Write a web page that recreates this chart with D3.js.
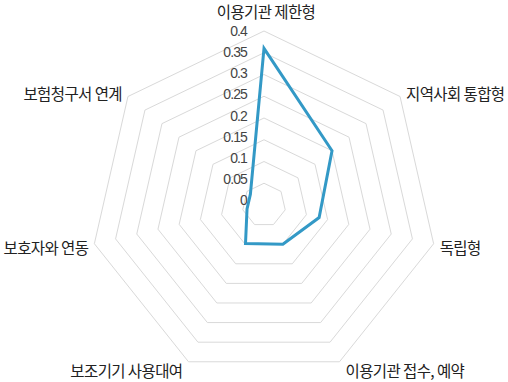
<!DOCTYPE html>
<html><head><meta charset="utf-8">
<script src="https://cdn.jsdelivr.net/npm/d3@7"></script>
<style>
html,body{margin:0;padding:0;background:#fff;}
svg{display:block;}
</style></head>
<body>
<svg id="chart" width="508" height="382"></svg>
<script>
const categories = ["이용기관 제한형","지역사회 통합형","독립형","이용기관 접수, 예약","보조기기 사용대여","보호자와 연동","보험청구서 연계"];
const values = [0.36, 0.2, 0.13, 0.1, 0.098, 0.04, 0.04];
const ticks = [0, 0.05, 0.1, 0.15, 0.2, 0.25, 0.3, 0.35, 0.4];
const tickLabels = ["0","0.05","0.1","0.15","0.2","0.25","0.3","0.35","0.4"];

const svg = d3.select("#chart");
const cx = 264, cy = 205, R = 174;
const n = categories.length;
const r = d3.scaleLinear().domain([0, 0.4]).range([0, R]);
const ang = d3.scaleLinear().domain([0, n]).range([0, 2*Math.PI]);
const pt = (i, v) => [cx + r(v)*Math.sin(ang(i)), cy - r(v)*Math.cos(ang(i))];

// grid rings
const line = d3.line();
ticks.filter(t => t > 0).forEach(t => {
  svg.append("path")
    .attr("d", line(d3.range(n).map(i => pt(i, t))) + "Z")
    .attr("fill", "none").attr("stroke", "#d9d9d9").attr("stroke-width", 1);
});

// tick labels
const yLab = d3.scaleLinear().domain([0, 0.4]).range([cy - 5, cy - R]);
svg.append("g").selectAll("text").data(ticks).join("text")
  .attr("x", cx - 17).attr("y", d => yLab(d))
  .attr("text-anchor", "end").attr("dominant-baseline", "central")
  .attr("font-family", "'Liberation Sans', Arial, sans-serif")
  .attr("font-size", 14).attr("letter-spacing", -0.9)
  .attr("fill", "#444")
  .text((d, i) => tickLabels[i]);

// data polygon
svg.append("path")
  .attr("d", line(values.map((v, i) => pt(i, v))) + "Z")
  .attr("fill", "none").attr("stroke", "#3399c6").attr("stroke-width", 3)
  .attr("stroke-linejoin", "miter");

// category labels
svg.append("g").selectAll("text").data(categories).join("text")
  .each(function(d, i) {
    const s = Math.sin(ang(i)), c = Math.cos(ang(i));
    const [vx, vy] = pt(i, 0.4);
    const anchor = Math.abs(s) < 0.1 ? "middle" : (s > 0 ? "start" : "end");
    const xo = Math.abs(s) < 0.1 ? 2 : (s > 0 ? 6 : -6);
    const yo = Math.abs(s) < 0.1 ? -20 : (-c*8 + 1.5);
    d3.select(this).attr("x", vx + xo).attr("y", vy + yo).attr("text-anchor", anchor);
  })
  .attr("dominant-baseline", "central")
  .attr("font-family", "'Noto Sans CJK KR', sans-serif")
  .attr("font-size", 15.5).attr("letter-spacing", -0.6)
  .attr("fill", "#222")
  .text(d => d);
</script>
</body></html>
